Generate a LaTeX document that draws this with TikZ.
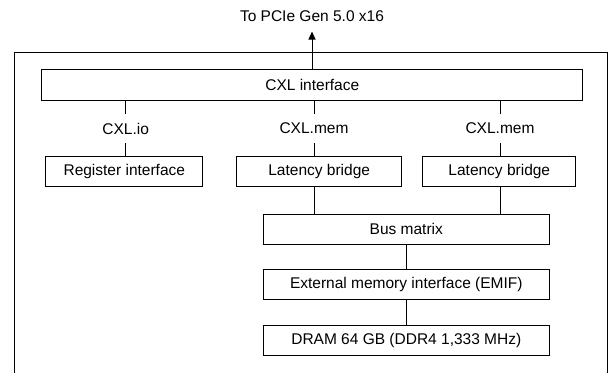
\documentclass[tikz,border=0pt]{standalone}
\usepackage{fontspec}
\setmainfont{Liberation Sans}
\usetikzlibrary{arrows.meta}
\tikzset{
  blk/.style={draw, line width=1pt, rectangle, inner sep=0pt, minimum height=30pt, align=center},
  lbl/.style={inner sep=0pt, minimum height=29.3pt},
  wire/.style={line width=1pt},
}
\begin{document}
\begin{tikzpicture}[x=1pt, y=-1pt, font=\fontsize{15.5}{18}\selectfont]
\useasboundingbox (0,0) rectangle (610,372);
% outer frame (open at the bottom)
\draw[wire] (14,380) -- (14,52.7) -- (607,52.7) -- (607,380);
% title and arrow
\node (title) at (312,16) {To PCIe Gen 5.0 x16};
\coordinate (top) at (312,31.5);
% blocks
\node[blk, minimum width=540.7pt, minimum height=31pt] (cxl) at (312.3,84.8) {CXL interface};
\node[blk, minimum width=156.7pt] (reg) at (124.3,171.7) {Register interface};
\node[blk, minimum width=165pt] (lb1) at (319.2,171.7) {Latency bridge};
\node[blk, minimum width=153.3pt] (lb2) at (499.3,171.7) {Latency bridge};
\node[blk, minimum width=286pt] (bus) at (406.3,229.3) {Bus matrix};
\node[blk, minimum width=286pt] (emif) at (406.3,284.7) {External memory interface (EMIF)};
\node[blk, minimum width=286pt, minimum height=30.4pt] (dram) at (406.3,340.5) {DRAM 64 GB (DDR4 1,333 MHz)};
% channel labels
\node[lbl] (lio) at (125.7,128.6) {CXL.io};
\node[lbl] (lm1) at (314,128.6) {CXL.mem};
\node[lbl] (lm2) at (500,128.6) {CXL.mem};
% connectors
\draw[wire, -{Triangle[length=8pt,width=7pt]}] (cxl.north -| top) -- (top);
\draw[wire] (cxl.south -| lio) -- (lio.north);
\draw[wire] (lio.south) -- (lio.south |- reg.north);
\draw[wire] (cxl.south -| lm1) -- (lm1.north);
\draw[wire] (lm1.south) -- (lm1.south |- lb1.north);
\draw[wire] (cxl.south -| lm2) -- (lm2.north);
\draw[wire] (lm2.south) -- (lm2.south |- lb2.north);
\draw[wire] (lb1.south -| lm1) -- (lm1 |- bus.north);
\draw[wire] (lb2.south -| lm2) -- (lm2 |- bus.north);
\draw[wire] (bus.south) -- (emif.north);
\draw[wire] (emif.south) -- (dram.north);
\end{tikzpicture}
\end{document}
